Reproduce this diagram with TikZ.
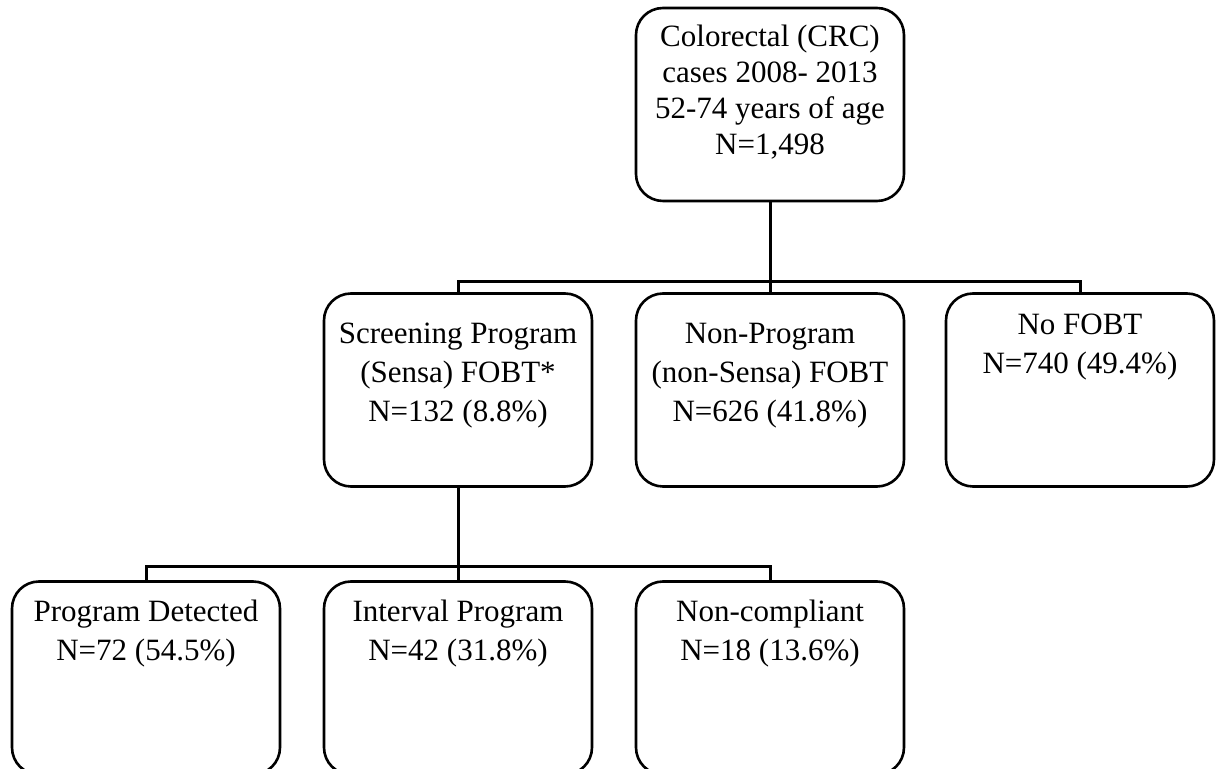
\documentclass[tikz,border=0pt]{standalone}
\usepackage{fontspec}
\setmainfont{Liberation Serif}
\usetikzlibrary{arrows}

% box text, top aligned, first arg = space above first line
\newcommand{\cell}[2]{\parbox[c][96.5pt][t]{134pt}{\centering\vspace*{#1}\strut #2}}

\begin{document}
\begin{tikzpicture}[x=0.5pt,y=-0.5pt]
    \tikzstyle{edge}=[draw=black,line width=1.5pt,-]
    \tikzstyle{box}=[draw=black,line width=1.3pt,rounded corners=13.5pt,inner sep=0pt,outer sep=0pt,
                     font=\fontsize{15.5}{19.5}\selectfont]

    \useasboundingbox (0,0) rectangle (1217,769);
    \clip (0,0) rectangle (1217,769);

    \def\yA{104.5}
    \def\yB{390}
    \def\yC{678}

    \node[box,font=\fontsize{15.5}{18}\selectfont] (top) at (770,\yA)
        {\cell{6.8pt}{Colorectal (CRC)\\cases 2008- 2013\\52-74 years of age\\N=1,498}};

    \node[box] (screen)   at ( 458,\yB) {\cell{11.3pt}{Screening Program\\(Sensa) FOBT*\\N=132 (8.8\%)}};
    \node[box] (nonprog)  at ( 770,\yB) {\cell{11.3pt}{Non-Program\\(non-Sensa) FOBT\\N=626 (41.8\%)}};
    \node[box] (nofobt)   at (1080,\yB) {\cell{6.8pt}{No FOBT\\N=740 (49.4\%)}};

    \node[box] (detect)   at ( 146,\yC) {\cell{6.3pt}{Program Detected\\N=72 (54.5\%)}};
    \node[box] (interval) at ( 458,\yC) {\cell{6.3pt}{Interval Program\\N=42 (31.8\%)}};
    \node[box] (noncomp)  at ( 770,\yC) {\cell{6.3pt}{Non-compliant\\N=18 (13.6\%)}};

    \coordinate (split1) at (770,282);
    \coordinate (split2) at (458,567);

    \path[edge] (top) -- (split1);
    \path[edge] (screen.north) |- (split1) -| (nofobt.north);
    \path[edge] (split1) -- (nonprog);

    \path[edge] (screen) -- (split2);
    \path[edge] (detect.north) |- (split2) -| (noncomp.north);
    \path[edge] (split2) -- (interval);
\end{tikzpicture}
\end{document}
